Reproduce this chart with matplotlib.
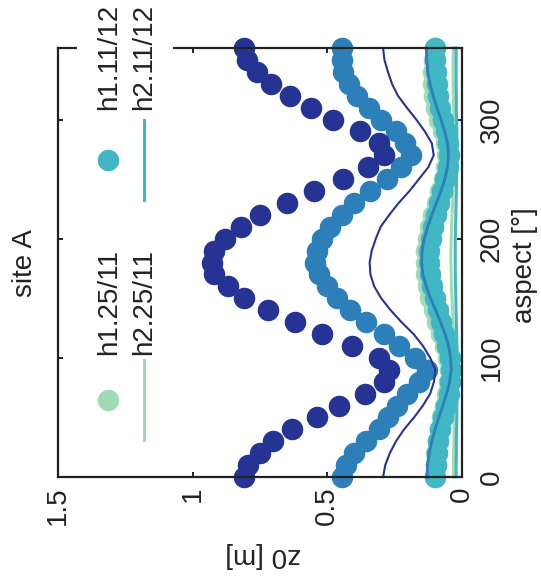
import matplotlib
matplotlib.use('Agg')
import matplotlib.pyplot as plt
from matplotlib.lines import Line2D
from matplotlib.patches import Rectangle

plt.rcParams['font.family'] = ['Liberation Sans', 'DejaVu Sans']

W, H = 541, 579

aspect = [0, 10, 20, 30, 40, 50, 60, 70, 80, 90, 100, 110, 120, 130, 140, 150, 160, 170, 180,
          190, 200, 210, 220, 230, 240, 250, 260, 270, 280, 290, 300, 310, 320, 330, 340, 350, 360]

# z0 per aspect class, points = h1, lines = h2
h1_2511 = [0.100, 0.098, 0.095, 0.090, 0.083, 0.074, 0.064, 0.055, 0.048, 0.046, 0.052, 0.064, 0.078,
           0.092, 0.105, 0.117, 0.126, 0.132, 0.135, 0.133, 0.128, 0.118, 0.106, 0.093, 0.080, 0.068,
           0.058, 0.054, 0.060, 0.072, 0.084, 0.095, 0.103, 0.107, 0.107, 0.104, 0.101]
h2_2511 = [0.032, 0.032, 0.031, 0.030, 0.029, 0.028, 0.027, 0.026, 0.026, 0.026, 0.027, 0.029, 0.031,
           0.033, 0.035, 0.037, 0.039, 0.040, 0.041, 0.041, 0.040, 0.039, 0.037, 0.035, 0.033, 0.031,
           0.029, 0.028, 0.028, 0.029, 0.030, 0.031, 0.032, 0.033, 0.033, 0.033, 0.032]
h1_1112 = [0.100, 0.098, 0.094, 0.088, 0.080, 0.070, 0.060, 0.050, 0.044, 0.042, 0.046, 0.055, 0.066,
           0.078, 0.090, 0.102, 0.112, 0.120, 0.124, 0.122, 0.116, 0.108, 0.098, 0.086, 0.074, 0.062,
           0.053, 0.049, 0.052, 0.060, 0.070, 0.080, 0.088, 0.094, 0.098, 0.100, 0.100]
h2_1112 = [0.022, 0.022, 0.021, 0.021, 0.020, 0.019, 0.019, 0.018, 0.018, 0.018, 0.018, 0.019, 0.020,
           0.021, 0.022, 0.023, 0.024, 0.025, 0.025, 0.025, 0.025, 0.024, 0.023, 0.022, 0.021, 0.020,
           0.019, 0.019, 0.019, 0.019, 0.020, 0.021, 0.021, 0.022, 0.022, 0.022, 0.022]
h1_c = [0.445, 0.430, 0.400, 0.355, 0.310, 0.275, 0.240, 0.205, 0.160, 0.130, 0.175, 0.235, 0.290,
        0.355, 0.415, 0.465, 0.500, 0.530, 0.545, 0.540, 0.520, 0.490, 0.445, 0.400, 0.340, 0.280,
        0.225, 0.190, 0.210, 0.245, 0.300, 0.345, 0.390, 0.420, 0.440, 0.445, 0.445]
h2_c = [0.130, 0.128, 0.122, 0.112, 0.100, 0.086, 0.071, 0.057, 0.046, 0.040, 0.042, 0.050, 0.063,
        0.080, 0.098, 0.117, 0.133, 0.145, 0.150, 0.148, 0.140, 0.127, 0.112, 0.095, 0.078, 0.064,
        0.054, 0.050, 0.054, 0.064, 0.078, 0.093, 0.107, 0.119, 0.127, 0.131, 0.132]
h1_d = [0.810, 0.795, 0.750, 0.700, 0.630, 0.540, 0.455, 0.360, 0.290, 0.270, 0.310, 0.410, 0.520,
        0.620, 0.720, 0.810, 0.870, 0.920, 0.930, 0.920, 0.880, 0.820, 0.750, 0.650, 0.550, 0.440,
        0.350, 0.290, 0.310, 0.380, 0.480, 0.560, 0.640, 0.710, 0.760, 0.800, 0.810]
h2_d = [0.293, 0.285, 0.268, 0.245, 0.215, 0.178, 0.145, 0.118, 0.104, 0.099, 0.118, 0.145, 0.180,
        0.225, 0.265, 0.300, 0.326, 0.340, 0.343, 0.335, 0.320, 0.302, 0.270, 0.235, 0.195, 0.160,
        0.125, 0.105, 0.112, 0.138, 0.170, 0.205, 0.238, 0.260, 0.275, 0.288, 0.293]

green, cyan, mid, dark = '#a1dab4', '#41b6c4', '#2c7fb8', '#253494'
ms = 15.5

fig = plt.figure(figsize=(W / 100, H / 100), dpi=100)
ax = fig.add_axes([58 / W, 1 - 477 / H, 404 / W, 429 / H])


def px(x, y):
    return x / W, 1 - y / H


# figure is laid out turned by 90 degrees: z0 runs right to left, aspect bottom to top
for pts, line, col, lw in [(h1_2511, h2_2511, green, 2.2), (h1_1112, h2_1112, cyan, 2.2),
                           (h1_c, h2_c, mid, 2.0), (h1_d, h2_d, dark, 1.5)]:
    ax.plot(pts, aspect, 'o', ms=ms, color=col, mec='none', clip_on=False)
    ax.plot(line, aspect, '-', lw=lw, color=col, clip_on=False)

ax.set_xlim(1.5, 0)
ax.set_ylim(0, 360)
ax.set_xticks([0, 0.5, 1, 1.5])
ax.set_xticklabels(['0', '0.5', '1', '1.5'])
ax.set_yticks([0, 100, 200, 300])
ax.tick_params(axis='x', direction='in', top=True, bottom=True, length=3.5, width=1.4,
               labelsize=20, labelrotation=90, pad=7, colors='#222222')
ax.tick_params(axis='y', direction='in', left=True, right=True, labelleft=False,
               labelright=True, length=3.5, width=1.4, labelsize=20, pad=12, colors='#222222')
for lab in ax.get_yticklabels():
    lab.set_rotation(90)
    lab.set_va('center')
for sp in ax.spines.values():
    sp.set_linewidth(1.6)
    sp.set_color('#222222')

fig.text(*px(25, 263), 'site A', rotation=90, ha='center', va='center', fontsize=20, color='#222222')
fig.text(*px(525, 265), 'aspect [°]', rotation=90, ha='center', va='center', fontsize=20, color='#222222')
fig.text(*px(263, 555), 'z0 [m]', rotation=180, ha='center', va='center', fontsize=20, color='#222222')

# legend, two rows: points (h1) and lines (h2)
fig.add_artist(Rectangle(px(77, 452), 96 / W, 470 / H, transform=fig.transFigure,
                         facecolor='white', edgecolor='none', zorder=5))
for col, ymark, lab1, lab2, ytxt in [(green, 400, 'h1.25/11', 'h2.25/11', 355),
                                     (cyan, 160, 'h1.11/12', 'h2.11/12', 110)]:
    fig.add_artist(Line2D([108 / W], [1 - ymark / H], marker='o', ms=ms, color=col, mec='none',
                          transform=fig.transFigure, zorder=6))
    fig.add_artist(Line2D([144 / W, 144 / W], [1 - (ymark + 40) / H, 1 - (ymark - 40) / H],
                          lw=2.2, color=col, transform=fig.transFigure, zorder=6))
    fig.text(*px(109, ytxt), lab1, rotation=90, ha='center', va='bottom', fontsize=20,
             color='#222222', zorder=7)
    fig.text(*px(144, ytxt), lab2, rotation=90, ha='center', va='bottom', fontsize=20,
             color='#222222', zorder=7)

fig.savefig('out.png', dpi=100)
